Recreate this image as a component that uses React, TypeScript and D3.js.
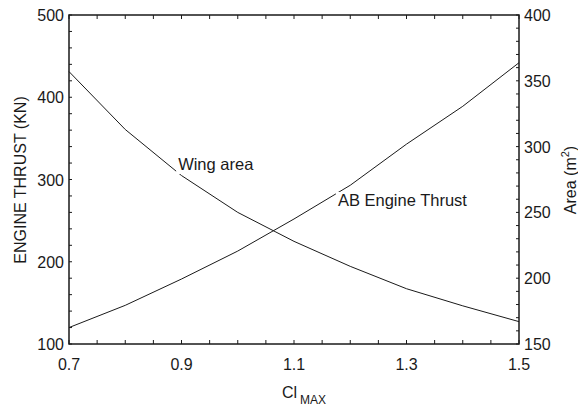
import { useEffect, useRef } from "react"
import * as d3 from "d3"

// lift coefficient samples
const clMax = [0.7, 0.8, 0.9, 1.0, 1.1, 1.2, 1.3, 1.4, 1.5]
// AB engine thrust (KN), left axis
const engineThrust = [120, 147, 179, 213, 252, 293, 343, 389, 442]
// wing area (m2), right axis
const wingArea = [357, 313, 278, 250, 228, 209, 192, 179, 167]

const xTickLabels = [0.7, 0.9, 1.1, 1.3, 1.5]
const leftTickLabels = [100, 200, 300, 400, 500]
const rightTickLabels = [150, 200, 250, 300, 350, 400]

const FONT = "'Liberation Sans', Arial, Helvetica, sans-serif"
const INK = "#1a1a1a"

export default function App() {
  const ref = useRef<SVGSVGElement | null>(null)

  useEffect(() => {
    if (!ref.current) return
    const svg = d3.select(ref.current)
    svg.selectAll("*").remove()

    const x = d3.scaleLinear().domain([0.7, 1.5]).range([69, 519])
    const yL = d3.scaleLinear().domain([100, 500]).range([344, 15])
    const yR = d3.scaleLinear().domain([150, 400]).range([344, 15])
    const [x0, x1] = x.range()
    const [yb, yt] = yL.range()

    const g = svg.append("g")

    // minor + major ticks, pointing inward
    const xMinor = d3.range(0, 17).map((i) => 0.7 + i * 0.05)
    const lMinor = d3.range(100, 501, 20)
    const rMinor = d3.range(150, 401, 10)

    xMinor.forEach((v) => {
      g.append("line").attr("x1", x(v)).attr("x2", x(v)).attr("y1", yb).attr("y2", yb - 4)
        .attr("stroke", INK).attr("stroke-width", 1)
      g.append("line").attr("x1", x(v)).attr("x2", x(v)).attr("y1", yt).attr("y2", yt + 4)
        .attr("stroke", INK).attr("stroke-width", 1)
    })
    lMinor.forEach((v) => {
      g.append("line").attr("x1", x0).attr("x2", x0 + 3).attr("y1", yL(v)).attr("y2", yL(v))
        .attr("stroke", INK).attr("stroke-width", 1)
    })
    rMinor.forEach((v) => {
      g.append("line").attr("x1", x1).attr("x2", x1 - 3).attr("y1", yR(v)).attr("y2", yR(v))
        .attr("stroke", INK).attr("stroke-width", 1)
    })

    // curves
    const thrustLine = d3.line<number>().x((_, i) => x(clMax[i])).y((d) => yL(d))
    const areaLine = d3.line<number>().x((_, i) => x(clMax[i])).y((d) => yR(d))

    g.append("path").attr("d", areaLine(wingArea)).attr("fill", "none")
      .attr("stroke", INK).attr("stroke-width", 1)
    g.append("path").attr("d", thrustLine(engineThrust)).attr("fill", "none")
      .attr("stroke", INK).attr("stroke-width", 1)

    // annotations with white boxes (they clip the curves a bit)
    const notes = [
      { text: "Wing area", cl: 0.894, val: 311.5 },
      { text: "AB Engine Thrust", cl: 1.178, val: 267.8 },
    ]
    notes.forEach((n) => {
      const bg = g.append("rect").attr("fill", "white")
      const t = g.append("text").attr("x", x(n.cl)).attr("y", yL(n.val))
        .attr("font-family", FONT).attr("font-size", 16.5).attr("fill", INK).text(n.text)
      const b = (t.node() as SVGTextElement).getBBox()
      bg.attr("x", b.x - 2).attr("y", b.y + 1).attr("width", b.width + 4).attr("height", b.height)
    })

    // frame
    g.append("rect").attr("x", x0).attr("y", yt).attr("width", x1 - x0).attr("height", yb - yt)
      .attr("fill", "none").attr("stroke", INK).attr("stroke-width", 1.5)

    // tick labels
    g.selectAll(".xl").data(xTickLabels).enter().append("text")
      .attr("x", (d) => x(d)).attr("y", 370).attr("text-anchor", "middle")
      .attr("font-family", FONT).attr("font-size", 16).attr("fill", INK)
      .text((d) => d.toFixed(1))
    g.selectAll(".ll").data(leftTickLabels).enter().append("text")
      .attr("x", x0 - 5).attr("y", (d) => yL(d) + 6).attr("text-anchor", "end")
      .attr("font-family", FONT).attr("font-size", 16).attr("fill", INK)
      .text((d) => d)
    g.selectAll(".rl").data(rightTickLabels).enter().append("text")
      .attr("x", x1 + 5).attr("y", (d) => yR(d) + 6).attr("text-anchor", "start")
      .attr("font-family", FONT).attr("font-size", 16).attr("fill", INK)
      .text((d) => d)

    // axis titles
    g.append("text").attr("transform", "translate(26,180) rotate(-90)")
      .attr("text-anchor", "middle").attr("font-family", FONT).attr("font-size", 16)
      .attr("fill", INK).text("ENGINE THRUST (KN)")

    const rt = g.append("text").attr("transform", "translate(576,180) rotate(-90)")
      .attr("text-anchor", "middle").attr("font-family", FONT).attr("font-size", 16)
      .attr("fill", INK)
    rt.append("tspan").text("Area (m")
    rt.append("tspan").attr("font-size", 11).attr("dy", -7).text("2")
    rt.append("tspan").attr("dy", 7).text(")")

    const xt = g.append("text").attr("x", 304).attr("y", 398).attr("text-anchor", "middle")
      .attr("font-family", FONT).attr("font-size", 16).attr("fill", INK)
    xt.append("tspan").text("Cl")
    xt.append("tspan").attr("font-size", 12).attr("dy", 6).attr("dx", 3).text("MAX")
  }, [])

  return (
    <svg
      ref={ref}
      width={578}
      height={406}
      style={{ position: "absolute", left: 0, top: 0, background: "white" }}
    />
  )
}
